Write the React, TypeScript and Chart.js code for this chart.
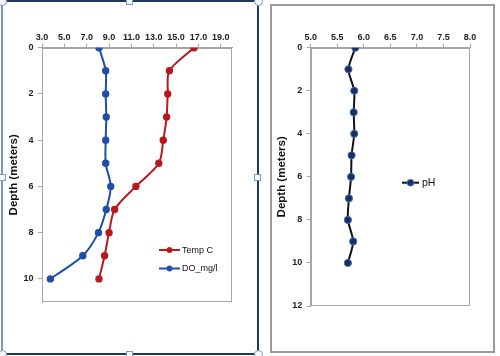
import React, { useEffect, useRef } from "react";
import { Chart, registerables } from "chart.js";

Chart.register(...registerables);

// ---- Data ----
const depthM = [0, 1, 2, 3, 4, 5, 6, 7, 8, 9, 10];
const tempC = [16.6, 14.4, 14.25, 14.15, 13.85, 13.45, 11.4, 9.5, 9.0, 8.6, 8.1];
const doMgL = [8.1, 8.7, 8.7, 8.75, 8.7, 8.7, 9.15, 8.75, 8.05, 6.65, 3.75];
const phValues = [5.84, 5.71, 5.82, 5.81, 5.82, 5.77, 5.76, 5.72, 5.7, 5.8, 5.7];

const leftXTicks = [3, 5, 7, 9, 11, 13, 15, 17, 19];
const leftYTicks = [0, 2, 4, 6, 8, 10];
const rightXTicks = [5, 5.5, 6, 6.5, 7, 7.5, 8];
const rightYTicks = [0, 2, 4, 6, 8, 10, 12];

const seriesNames = ["Temp C", "DO_mg/l", "pH"];
const axisTitle = "Depth (meters)";

// ---- Styles ----
const RED = "#b8191c";
const BLUE = "#1d4fa6";
const BLACK = "#111111";
const PH_FILL = "#1c2e5c";
const PH_BORDER = "#3a6cc0";
const GRAY = "#a6a6a6";
const FONT = "'Liberation Sans', Arial, sans-serif";

const toPts = (xs: number[]) => xs.map((x, i) => ({ x, y: depthM[i] }));

const plotBorder = {
  id: "plotBorder",
  beforeDatasetsDraw(chart: any) {
    const { ctx, chartArea: a } = chart;
    ctx.save();
    ctx.strokeStyle = GRAY;
    ctx.lineWidth = 1;
    const l = Math.round(a.left) + 0.5;
    const t = Math.round(a.top) + 0.5;
    const r = Math.round(a.right) - 0.5;
    const b = Math.round(a.bottom) - 0.5;
    ctx.strokeRect(l, t, r - l, b - t);
    ctx.restore();
  },
};

type LegendItem = { label: string; line: string; fill: string; border: string; radius: number; x1: number; x2: number; y: number; tx: number };

function legendPlugin(items: LegendItem[], fontSize: number) {
  return {
    id: "customLegend",
    afterDraw(chart: any) {
      const ctx = chart.ctx;
      ctx.save();
      items.forEach((it) => {
        ctx.strokeStyle = it.line;
        ctx.lineWidth = 2;
        ctx.beginPath();
        ctx.moveTo(it.x1, it.y);
        ctx.lineTo(it.x2, it.y);
        ctx.stroke();
        ctx.beginPath();
        ctx.arc((it.x1 + it.x2) / 2, it.y, it.radius, 0, Math.PI * 2);
        ctx.fillStyle = it.fill;
        ctx.fill();
        ctx.strokeStyle = it.border;
        ctx.lineWidth = 1;
        ctx.stroke();
        ctx.fillStyle = "#111";
        ctx.font = `${fontSize}px ${FONT}`;
        ctx.textBaseline = "middle";
        ctx.textAlign = "left";
        ctx.fillText(it.label, it.tx, it.y + 0.5);
      });
      ctx.restore();
    },
  };
}

function makeScales(cfg: {
  xMin: number; xMax: number; xTicks: number[];
  yMax: number; yTicks: number[];
  xHeight: number; yWidth: number; titlePad: number;
}) {
  const tickFont = { family: FONT, size: 9, weight: "bold" as const };
  const grid = { display: true, drawOnChartArea: false, drawTicks: true, tickLength: 4, color: GRAY, lineWidth: 1 };
  return {
    x: {
      type: "linear" as const,
      position: "top" as const,
      min: cfg.xMin,
      max: cfg.xMax,
      afterBuildTicks: (s: any) => { s.ticks = cfg.xTicks.map((v) => ({ value: v })); },
      afterFit: (s: any) => { s.height = cfg.xHeight; s.paddingLeft = 0; s.paddingRight = 0; },
      ticks: { callback: (v: any) => Number(v).toFixed(1), font: tickFont, color: "#222", padding: 1, maxRotation: 0, autoSkip: false },
      grid,
      border: { display: true, color: GRAY, width: 1 },
    },
    y: {
      type: "linear" as const,
      reverse: true,
      min: 0,
      max: cfg.yMax,
      afterBuildTicks: (s: any) => { s.ticks = cfg.yTicks.map((v) => ({ value: v })); },
      afterFit: (s: any) => { s.width = cfg.yWidth; s.paddingTop = 0; s.paddingBottom = 0; },
      title: {
        display: true,
        text: axisTitle,
        font: { family: FONT, size: 11.5, weight: "bold" as const },
        color: "#111",
        padding: { top: cfg.titlePad, bottom: 0 },
      },
      ticks: { callback: (v: any) => String(v), font: tickFont, color: "#222", padding: 4.5, autoSkip: false },
      grid,
      border: { display: true, color: GRAY, width: 1 },
    },
  };
}

export default function App() {
  const leftRef = useRef<HTMLCanvasElement>(null);
  const rightRef = useRef<HTMLCanvasElement>(null);

  useEffect(() => {
    const left = new Chart(leftRef.current!, {
      type: "scatter",
      data: {
        datasets: [
          {
            label: seriesNames[0],
            data: toPts(tempC),
            showLine: true,
            borderColor: RED,
            backgroundColor: RED,
            pointBackgroundColor: RED,
            pointBorderColor: RED,
            pointRadius: 2.7,
            borderWidth: 2,
            tension: 0.3,
          },
          {
            label: seriesNames[1],
            data: toPts(doMgL),
            showLine: true,
            borderColor: BLUE,
            backgroundColor: BLUE,
            pointBackgroundColor: BLUE,
            pointBorderColor: BLUE,
            pointRadius: 2.7,
            borderWidth: 2,
            tension: 0.3,
          },
        ],
      },
      options: {
        responsive: false,
        animation: false,
        layout: { padding: { left: 0, top: 0, right: 500 - 232, bottom: 356 - 302 } },
        plugins: { legend: { display: false }, tooltip: { enabled: false } },
        scales: makeScales({ xMin: 3, xMax: 20, xTicks: leftXTicks, yMax: 11, yTicks: leftYTicks, xHeight: 47.7, yWidth: 42, titlePad: 7 }) as any,
      },
      plugins: [
        plotBorder,
        legendPlugin(
          [
            { label: seriesNames[0], line: RED, fill: RED, border: RED, radius: 2.6, x1: 159, x2: 180, y: 250, tx: 182 },
            { label: seriesNames[1], line: BLUE, fill: BLUE, border: BLUE, radius: 2.6, x1: 159, x2: 180, y: 268.5, tx: 182 },
          ],
          9
        ),
      ],
    });

    const right = new Chart(rightRef.current!, {
      type: "scatter",
      data: {
        datasets: [
          {
            label: seriesNames[2],
            data: toPts(phValues),
            showLine: true,
            borderColor: BLACK,
            backgroundColor: PH_FILL,
            pointBackgroundColor: PH_FILL,
            pointBorderColor: PH_BORDER,
            pointBorderWidth: 1,
            pointRadius: 3.6,
            borderWidth: 2,
            tension: 0.25,
          },
        ],
      },
      options: {
        responsive: false,
        animation: false,
        layout: { padding: { left: 270, top: 0, right: 500 - 470, bottom: 356 - 306 } },
        plugins: { legend: { display: false }, tooltip: { enabled: false } },
        scales: makeScales({ xMin: 5, xMax: 8, xTicks: rightXTicks, yMax: 12, yTicks: rightYTicks, xHeight: 47.7, yWidth: 40.7, titlePad: 5 }) as any,
      },
      plugins: [
        plotBorder,
        legendPlugin(
          [{ label: seriesNames[2], line: BLACK, fill: PH_FILL, border: PH_BORDER, radius: 3.3, x1: 402, x2: 419, y: 182.7, tx: 422 }],
          10.5
        ),
      ],
    });

    return () => {
      left.destroy();
      right.destroy();
    };
  }, []);

  const handleBase: React.CSSProperties = {
    position: "absolute",
    width: 7,
    height: 7,
    background: "#f4f8fc",
    border: "1px solid #7f9db9",
    boxSizing: "border-box",
  };
  const sq = (x: number, y: number) => <div key={`s${x}-${y}`} style={{ ...handleBase, left: x - 3.5, top: y - 3.5 }} />;
  const ci = (x: number, y: number) => (
    <div key={`c${x}-${y}`} style={{ ...handleBase, width: 9, height: 9, borderRadius: "50%", left: x - 4.5, top: y - 4.5 }} />
  );

  return (
    <div style={{ position: "absolute", left: 0, top: 0, width: 500, height: 356, background: "#fff", overflow: "hidden" }}>
      {/* right chart frame */}
      <div
        style={{
          position: "absolute",
          left: 270,
          top: 4,
          width: 225,
          height: 349,
          border: "2px solid #9a9a9a",
          boxSizing: "border-box",
          background: "#fff",
        }}
      />
      {/* left chart selection frame */}
      <div
        style={{
          position: "absolute",
          left: 1,
          top: 0,
          width: 258,
          height: 355,
          borderTop: "2px solid #1f3a5f",
          borderRight: "2px solid #1f3a5f",
          borderBottom: "2px solid #1f3a5f",
          borderLeft: "2px solid #7d98b6",
          boxSizing: "border-box",
          background: "#fff",
        }}
      />
      <canvas ref={leftRef} width={500} height={356} style={{ position: "absolute", left: 0, top: 0, width: 500, height: 356 }} />
      <canvas ref={rightRef} width={500} height={356} style={{ position: "absolute", left: 0, top: 0, width: 500, height: 356 }} />
      {[ci(2, 1), ci(258, 1), ci(2, 354), ci(258, 354), sq(129, 1), sq(129, 354), sq(2, 177), sq(257, 177)]}
    </div>
  );
}
